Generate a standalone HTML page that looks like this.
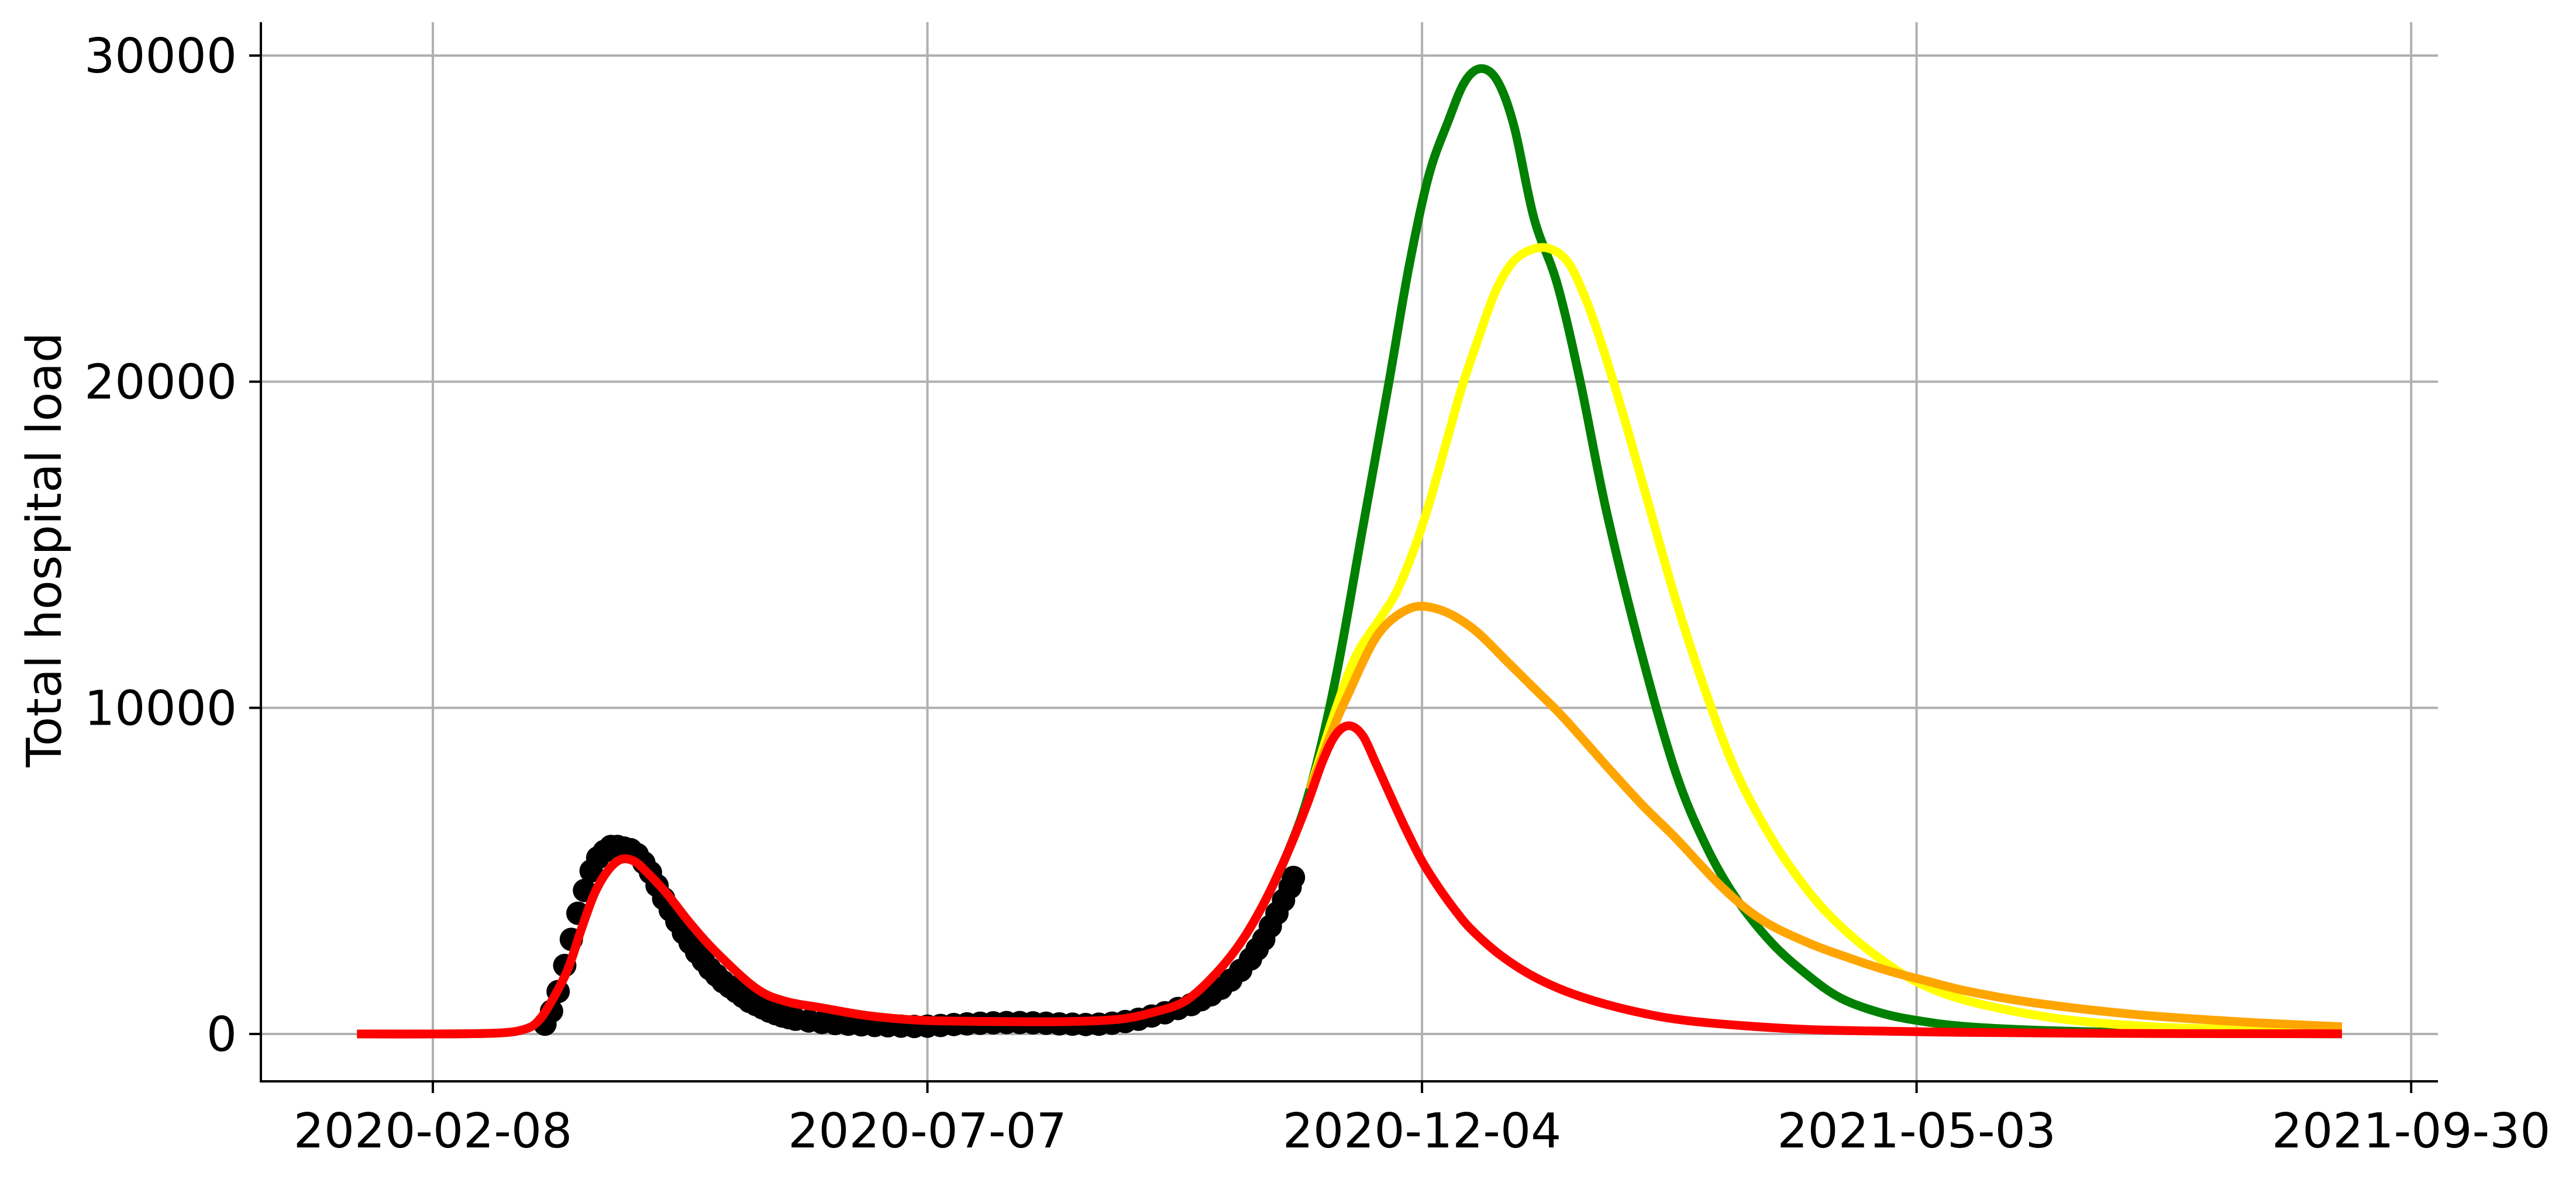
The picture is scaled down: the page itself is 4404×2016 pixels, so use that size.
<!DOCTYPE html>
<html><head><meta charset="utf-8"><style>
html,body{margin:0;padding:0;background:#fff;}
svg text{font-family:"DejaVu Sans","Liberation Sans",sans-serif;fill:#000;}
</style></head><body>
<svg id="chart" width="4404" height="2011" viewBox="0 0 4404 2011" xmlns="http://www.w3.org/2000/svg">
<rect width="4404" height="2011" fill="#fff"/>
<g id="grid"></g>
<g id="series"></g>
<g id="axes"></g>
<text x="0" y="0" font-size="82" text-anchor="middle" transform="translate(104,940) rotate(-90)">Total hospital load</text>
</svg>
<script>
// days relative to 2020-02-08
const xTickDays = [0, 150, 300, 450, 600];
const xTickLabels = ["2020-02-08", "2020-07-07", "2020-12-04", "2021-05-03", "2021-09-30"];
const yTickValues = [0, 10000, 20000, 30000];
const yTickLabels = ["0", "10000", "20000", "30000"];

const obsDays = [34,36,38,40,42,44,46,48,50,52,54,56,58,60,62,64,66,68,70,72,74,76,78,80,82,84,86,88,90,92,94,96,98,100,102,104,106,108,110,114,118,122,126,130,134,138,142,146,150,154,158,162,166,170,174,178,182,186,190,194,198,202,206,210,214,218,222,226,230,233,236,239,242,245,248,250,252,254,256,258,260,261];
const obsVals = [300,700,1300,2100,2900,3700,4400,5000,5400,5600,5750,5750,5700,5650,5500,5250,4950,4550,4150,3800,3450,3100,2800,2500,2250,2000,1800,1600,1450,1300,1150,1000,900,800,700,620,550,500,450,400,350,320,300,280,260,250,240,230,240,260,290,310,330,340,350,350,340,330,310,300,290,300,330,380,450,550,650,780,900,1050,1200,1400,1650,1950,2300,2600,2900,3300,3700,4100,4500,4800];

const redDays = [-23,0,20,28,32,36,41,45,49,53,57,61,65,71,78,86,98,107,118,132,148,172,193,208,218,228,237,245,252,259,265,270,274,278,282,286,290,295,300,305,310,315,324,335,348,365,383,414,444,464,505,545,579];
const redVals = [0,0,30,150,400,1000,2000,3200,4300,5000,5350,5300,4950,4300,3400,2500,1400,1000,800,560,420,380,380,450,650,1000,1800,2800,4000,5500,7000,8400,9200,9450,9150,8300,7400,6300,5300,4500,3800,3200,2400,1700,1150,680,380,150,80,50,20,10,5];

const greenDays = [-23,0,20,28,32,36,41,45,49,53,57,61,65,71,78,86,98,107,118,132,148,172,193,208,218,228,237,245,252,259,266,274,282,290,296,302,308,313,318,323,328,334,341,348,356,367,377,386,395,406,417,427,439,451,466,491,527,579];
const greenVals = [0,0,30,150,400,1000,2000,3200,4300,5000,5350,5300,4950,4300,3400,2500,1400,1000,800,560,420,380,380,450,650,1000,1800,2800,4000,5500,7500,11000,15500,20000,23500,26300,28000,29200,29600,29200,27800,25000,23000,20000,16000,11500,8000,5800,4200,2800,1800,1100,650,400,220,100,30,5];

const yellowDays = [266,274,280,287,292,297,302,307,312,317,322,327,332,338,344,349,354,361,368,377,386,395,406,417,427,439,451,466,491,517,541,579];
const yellowVals = [7500,10000,11600,12700,13500,14700,16200,18000,19800,21300,22700,23600,24000,24100,23700,22700,21300,19000,16500,13300,10500,8100,6000,4400,3300,2300,1550,1000,500,250,150,60];

const orangeDays = [266,274,278,283,287,292,298,304,310,317,326,334,342,350,357,367,377,391,403,417,429,441,454,466,486,516,547,579];
const orangeVals = [7500,9600,10500,11600,12300,12800,13100,13050,12800,12300,11400,10600,9800,8900,8100,7000,6000,4500,3500,2800,2350,1950,1600,1300,950,600,380,220];

const X0 = 740, PXD = 5.637, Y0 = 1768, PYV = 1673/30000;
function xs(d){ return X0 + d*PXD; }
function ys(v){ return Y0 - v*PYV; }
const NS = "http://www.w3.org/2000/svg";
function mk(tag, parent){ const e = document.createElementNS(NS, tag); parent.appendChild(e); return e; }

const grid = document.getElementById('grid');
const axes = document.getElementById('axes');
const series = document.getElementById('series');
const L = 446, R = 4168, T = 38, B = 1849;

for (let i = 0; i < xTickDays.length; i++) {
  const x = xs(xTickDays[i]);
  const g = mk('line', grid);
  g.setAttribute('x1', x); g.setAttribute('x2', x); g.setAttribute('y1', T); g.setAttribute('y2', B);
  g.setAttribute('stroke', '#b0b0b0'); g.setAttribute('stroke-width', 4);
  
  
  const t = mk('line', axes);
  t.setAttribute('x1', x); t.setAttribute('x2', x); t.setAttribute('y1', B); t.setAttribute('y2', B + 20);
  t.setAttribute('stroke', '#000'); t.setAttribute('stroke-width', 4);
  
  
  const lb = mk('text', axes);
  lb.setAttribute('x', x); lb.setAttribute('y', 1962); lb.setAttribute('font-size', 82); lb.setAttribute('text-anchor', 'middle');
  lb.textContent = xTickLabels[i];
  
  
}
for (let i = 0; i < yTickValues.length; i++) {
  const y = ys(yTickValues[i]);
  const g = mk('line', grid);
  g.setAttribute('x1', L); g.setAttribute('x2', R); g.setAttribute('y1', y); g.setAttribute('y2', y);
  g.setAttribute('stroke', '#b0b0b0'); g.setAttribute('stroke-width', 4);
  
  
  const t = mk('line', axes);
  t.setAttribute('x1', L - 20); t.setAttribute('x2', L); t.setAttribute('y1', y); t.setAttribute('y2', y);
  t.setAttribute('stroke', '#000'); t.setAttribute('stroke-width', 4);
  
  
  const lb = mk('text', axes);
  lb.setAttribute('x', 405); lb.setAttribute('y', y + 29); lb.setAttribute('font-size', 82); lb.setAttribute('text-anchor', 'end');
  lb.textContent = yTickLabels[i];
  
  
}
const sp1 = mk('line', axes);
sp1.setAttribute('x1', L); sp1.setAttribute('x2', L); sp1.setAttribute('y1', T); sp1.setAttribute('y2', B + 2);
sp1.setAttribute('stroke', '#000'); sp1.setAttribute('stroke-width', 4);


const sp2 = mk('line', axes);
sp2.setAttribute('x1', L - 2); sp2.setAttribute('x2', R); sp2.setAttribute('y1', B); sp2.setAttribute('y2', B);
sp2.setAttribute('stroke', '#000'); sp2.setAttribute('stroke-width', 4);



function pathFor(days, vals){
  const p = days.map((d, i) => [xs(d), ys(vals[i])]);
  let s = 'M' + p[0][0] + ',' + p[0][1];
  for (let i = 0; i < p.length - 1; i++) {
    const p0 = p[Math.max(0, i - 1)], p1 = p[i], p2 = p[i + 1], p3 = p[Math.min(p.length - 1, i + 2)];
    const c1 = [p1[0] + (p2[0] - p0[0]) / 6, p1[1] + (p2[1] - p0[1]) / 6];
    const c2 = [p2[0] - (p3[0] - p1[0]) / 6, p2[1] - (p3[1] - p1[1]) / 6];
    s += 'C' + c1[0] + ',' + c1[1] + ' ' + c2[0] + ',' + c2[1] + ' ' + p2[0] + ',' + p2[1];
  }
  return s;
}

const og = mk('g', series);


for (let i = 0; i < obsDays.length; i++) {
  const c = mk('circle', og);
  c.setAttribute('cx', xs(obsDays[i])); c.setAttribute('cy', ys(obsVals[i])); c.setAttribute('r', 20); c.setAttribute('fill', '#000');
  
  
}

const green = mk('path', series);
green.setAttribute('d', pathFor(greenDays, greenVals));
green.setAttribute('fill', 'none'); green.setAttribute('stroke', '#008000'); green.setAttribute('stroke-width', 15);



const yellow = mk('path', series);
yellow.setAttribute('d', pathFor(yellowDays, yellowVals));
yellow.setAttribute('fill', 'none'); yellow.setAttribute('stroke', '#ffff00'); yellow.setAttribute('stroke-width', 15);



const orange = mk('path', series);
orange.setAttribute('d', pathFor(orangeDays, orangeVals));
orange.setAttribute('fill', 'none'); orange.setAttribute('stroke', '#ffa500'); orange.setAttribute('stroke-width', 15);



const red = mk('path', series);
red.setAttribute('d', pathFor(redDays, redVals));
red.setAttribute('fill', 'none'); red.setAttribute('stroke', '#ff0000'); red.setAttribute('stroke-width', 15);


</script>
</body></html>
